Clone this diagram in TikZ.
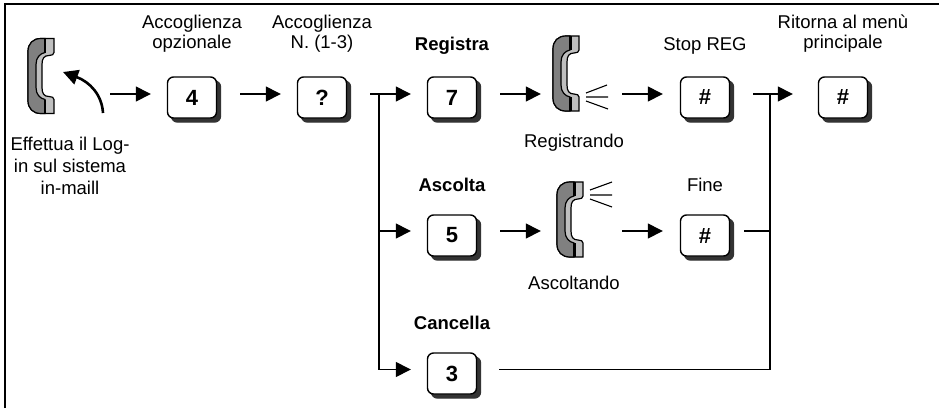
\documentclass[tikz,border=0pt]{standalone}
\usepackage{fontspec}
\setmainfont{Liberation Sans}
\usetikzlibrary{arrows.meta,shadows,calc}
\definecolor{phdark}{gray}{0.5}
\definecolor{phlight}{gray}{0.75}
\definecolor{shad}{gray}{0.2}
\tikzset{
  x=1pt,y=-1pt,
  lab/.style={align=center,inner sep=0pt,font=\fontsize{18.5}{20}\selectfont},
  blab/.style={lab,font=\fontsize{18.5}{20}\selectfont\bfseries},
  keybox/.style={draw=black,line width=1.4pt,fill=white,rounded corners=6pt,minimum width=49pt,minimum height=41pt,inner sep=0pt,
    font=\fontsize{22}{24}\selectfont\bfseries,
    general shadow={shadow xshift=4pt,shadow yshift=-4pt,fill=shad,draw=shad}},
  conn/.style={line width=1.4pt},
  arr/.style={conn,-{Triangle[length=15pt,width=15pt]}},
  wave/.style={line width=1.1pt},
  phbox/.style={inner sep=0pt,minimum width=26pt,minimum height=75pt},
}
\newcommand{\phone}[3]{% name, position (top-left), stripe width
  \begin{scope}[shift={#2}]
    \path[fill=phlight,draw=black,line width=1.2pt]
      (13,0) -- (26,0) -- (26,14) .. controls (26,16) and (24,17) .. (21,17)
      .. controls (16,17) and (14,20) .. (14,26) -- (14,49)
      .. controls (14,55) and (16,58) .. (21,58) .. controls (24,58) and (26,59) .. (26,61)
      -- (26,75) -- (13,75) .. controls (5,75) and (0,70) .. (0,62) -- (0,13) .. controls (0,5) and (5,0) .. (13,0) -- cycle;
    \path[fill=phdark,draw=black,line width=1.2pt]
      (13,0) -- (17,0) -- (17,14) .. controls (12,15) and (8,19) .. (8,26) -- (8,49)
      .. controls (8,56) and (12,60) .. (17,61) -- (17,75) -- (13,75) .. controls (5,75) and (0,70) .. (0,62) -- (0,13) .. controls (0,5) and (5,0) .. (13,0) -- cycle;
    \draw[line width=#3] (17,0) -- (17,14) (17,61) -- (17,75);
    \node[phbox] (#1) at (13,37.5) {};
  \end{scope}
}
\begin{document}
\begin{tikzpicture}
\useasboundingbox (0,0) rectangle (939,408);
\draw[line width=2pt] (5,408) -- (5,3.5) -- (939,3.5);

% row levels
\coordinate (r1) at (0,94);
\coordinate (r2) at (0,231);
\coordinate (r3) at (0,369.5);

% phones
\phone{ph1}{(28,38.5)}{1.2pt}
\phone{ph2}{(553,36)}{3pt}
\phone{ph3}{(557,182)}{3pt}

% keys
\node[keybox] (k4)  at (192,97.5) {4};
\node[keybox] (kq)  at (322,97.5) {?};
\node[keybox] (k7)  at (452,97.5) {7};
\node[keybox] (kr)  at (705,97.5) {\#};
\node[keybox] (ke)  at (843,97.5) {\#};
\node[keybox] (k5)  at (452,235.5) {5};
\node[keybox] (kf)  at (705,235.5) {\#};
\node[keybox] (k3)  at (452,373.5) {3};

% labels
\node[lab] (t1) at (192,34) {Accoglienza\\opzionale};
\node[lab] (t2) at (322,34) {Accoglienza\\N. (1-3)};
\node[blab] (t3) at (452,46) {Registra};
\node[lab] (t4) at (705,46) {Stop REG};
\node[lab] (t5) at (843,34) {Ritorna al menù\\principale};
\node[lab] (t6) at (574,143) {Registrando};
\node[blab] (t7) at (452,185) {Ascolta};
\node[lab] (t8) at (705,185) {Fine};
\node[lab] (t9) at (574,283) {Ascoltando};
\node[blab] (t10) at (452,323) {Cancella};
\node[lab,font=\fontsize{18.5}{22}\selectfont] (t11) at (70,166) {Effettua il Log-\\in sul sistema\\in-maill};

% handset lift arrow
\coordinate (ct) at (103,113);
\coordinate (ch) at (63,72);
\draw[line width=2.6pt,-{Triangle[length=15pt,width=15pt]}] (ct) .. controls (102,95) and (90,82) .. (ch);

% connectors row 1
\draw[arr,shorten <=56pt,shorten >=16pt] (ph1.east |- r1) -- (k4.west |- r1);
\draw[arr,shorten <=23pt,shorten >=16pt] (k4.east |- r1) -- (kq.west |- r1);
\coordinate (j1) at (379,94);
\coordinate (j1s) at (370,94);
\draw[arr,shorten >=16pt] (j1s) -- (k7.west |- r1);
\draw[conn] (j1) -- (j1 |- r3);
\draw[arr,shorten >=16pt] (j1 |- r2) -- (k5.west |- r2);
\draw[arr,shorten >=16pt] (j1 |- r3) -- (k3.west |- r3);
\draw[arr,shorten <=23pt,shorten >=12pt] (k7.east |- r1) -- (ph2.west |- r1);
\draw[arr,shorten <=43pt,shorten >=17pt] (ph2.east |- r1) -- (kr.west |- r1);
\draw[arr,shorten <=23pt,shorten >=16pt] (k5.east |- r2) -- (ph3.west |- r2);
\draw[arr,shorten <=39pt,shorten >=17pt] (ph3.east |- r2) -- (kf.west |- r2);

% waves
\draw[wave] (586,93) -- (607,85) (586,97) -- (608,97) (586,101) -- (608,109);
\draw[wave] (590,190) -- (612,182) (590,195) -- (612,195) (590,199) -- (612,207);

% merge
\coordinate (j2) at (770,94);
\draw[arr,shorten <=23pt,shorten >=25pt] (kr.east |- r1) -- (ke.west |- r1);
\draw[conn] (kf.east |- r2) ++(14,0) -- (j2 |- r2);
\draw[conn] (k3.east |- r3) ++(22,0) -- (j2 |- r3) -- (j2);
\end{tikzpicture}
\end{document}
